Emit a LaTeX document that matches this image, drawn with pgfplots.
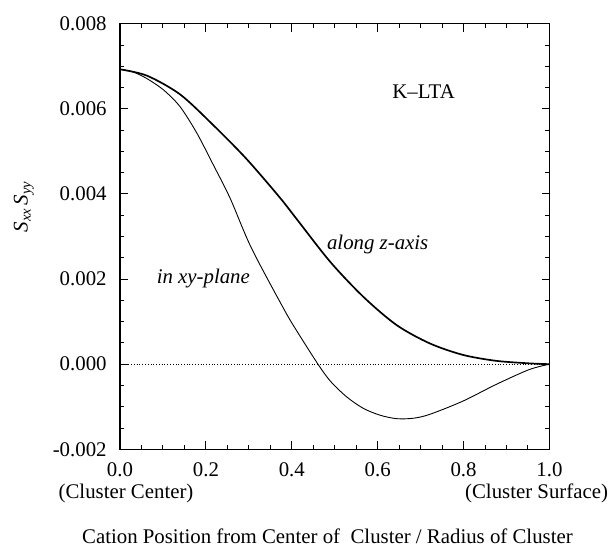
\documentclass[border=0pt]{standalone}
\usepackage{fontspec}
\setmainfont{Liberation Serif}
\usepackage{pgfplots}
\usepackage{pgfplotstable}
\pgfplotsset{compat=1.18}
\usetikzlibrary{calc}
\newcommand{\fs}{\fontsize{21}{25}\selectfont}

\pgfplotstableread{
x y
0.000 0.00693
0.063 0.00678
0.140 0.00634
0.217 0.00562
0.294 0.00483
0.371 0.00393
0.413 0.00339
0.490 0.00240
0.567 0.00158
0.644 0.00092
0.721 0.00049
0.798 0.00022
0.875 0.00008
0.952 0.00002
1.000 0.00000
}\zaxis

\pgfplotstableread{
x y
0.000 0.00693
0.030 0.00687
0.063 0.00671
0.102 0.00644
0.140 0.00605
0.179 0.00543
0.217 0.00469
0.256 0.00391
0.306 0.00273
0.383 0.00127
0.413 0.00076
0.461 0.00000
0.490 -0.00040
0.528 -0.00077
0.567 -0.00104
0.606 -0.00120
0.644 -0.00128
0.683 -0.00127
0.721 -0.00118
0.798 -0.00087
0.875 -0.00048
0.952 -0.00013
1.000 0.00000
}\xyplane

\begin{document}
\begin{tikzpicture}
\begin{axis}[
  scale only axis, width=433pt, height=429pt,
  xmin=0, xmax=1, ymin=-0.002, ymax=0.008,
  xtick={0,0.2,0.4,0.6,0.8,1},
  ytick={-0.002,0,0.002,0.004,0.006,0.008},
  minor x tick num=3, minor y tick num=3,
  tick align=inside,
  xtick pos=both, ytick pos=both,
  major tick length=8pt, minor tick length=4pt,
  axis line style={line width=1.2pt},
  every tick/.style={black, line width=1pt},
  scaled y ticks=false, scaled x ticks=false,
  tick label style={font=\fs},
  /pgf/number format/assume math mode=true,
  xticklabel style={/pgf/number format/fixed, /pgf/number format/fixed zerofill, /pgf/number format/precision=1, yshift=-10pt},
  yticklabel style={/pgf/number format/fixed, /pgf/number format/fixed zerofill, /pgf/number format/precision=3, xshift=-10pt},
  clip=false,
]
\addplot[black, dotted, line width=0.8pt] coordinates {(0,0) (1,0)};
\addplot[black, line width=1.7pt, smooth] table[x=x, y=y] {\zaxis};
\addplot[black, line width=0.9pt, smooth] table[x=x, y=y] {\xyplane};

\node[font=\fs, inner sep=0] at (axis cs:0.707,0.00641) {K--LTA};
\node[font=\fs\itshape, inner sep=0] at (axis cs:0.600,0.00282) {along z-axis};
\node[font=\fs\itshape, inner sep=0] at (axis cs:0.194,0.00201) {in xy-plane};
\node[font=\fs, inner sep=0, anchor=base, yshift=-49.5pt] at (axis cs:0.014,-0.002) {(Cluster Center)};
\node[font=\fs, inner sep=0, anchor=base, yshift=-49.5pt] at (axis cs:0.970,-0.002) {(Cluster Surface)};
\node[font=\fs, inner sep=0, anchor=base, yshift=-95pt] at (axis cs:0.483,-0.002) {Cation Position from Center of\ \ Cluster / Radius of Cluster};
\node[font=\fs, inner sep=0, rotate=90] at (axis cs:-0.224,0.0037) {\textit{S}\textsubscript{\textit{xx}}\,\textit{S}\textsubscript{\textit{yy}}};
\end{axis}
\path ($(current axis.south west)+(-121pt,-101pt)$) rectangle ($(current axis.north east)+(54pt,24pt)$);
\end{tikzpicture}
\end{document}
